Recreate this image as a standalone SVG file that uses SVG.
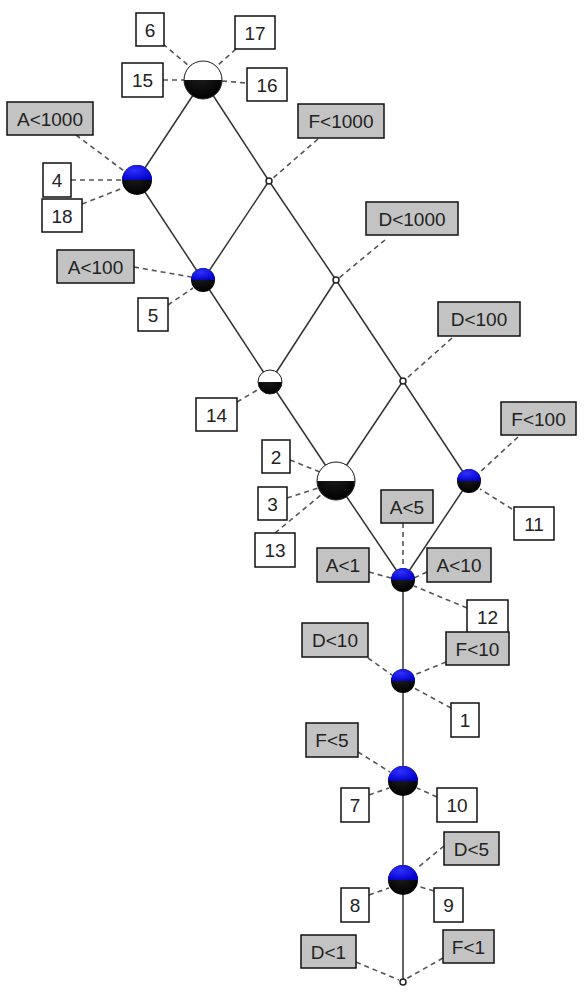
<svg xmlns="http://www.w3.org/2000/svg" width="585" height="1000" viewBox="0 0 585 1000">
<style>
.edge{stroke:#333;stroke-width:1.5;fill:none}
.dash{stroke:#555;stroke-width:1.6;stroke-dasharray:5 4;fill:none}
.obj{fill:#fff;stroke:#111;stroke-width:1.5}
.att{fill:#c3c3c3;stroke:#111;stroke-width:1.5}
.t{font-family:"Liberation Sans",Arial,sans-serif;font-size:19px;fill:#222;text-anchor:middle;dominant-baseline:central}
.bot{fill:url(#gBlack)}
.blue{fill:url(#gBlue)}
.white{fill:#fff}
.ring{fill:none;stroke:#222;stroke-width:1}
.small{fill:#fff;stroke:#222;stroke-width:1.5}
</style>
<defs>
<radialGradient id="gBlue" cx="0.4" cy="0.35" r="0.7">
<stop offset="0" stop-color="#3030ff"/>
<stop offset="1" stop-color="#0000c8"/>
</radialGradient>
<radialGradient id="gBlack" cx="0.45" cy="0.3" r="0.7">
<stop offset="0" stop-color="#222"/>
<stop offset="1" stop-color="#000"/>
</radialGradient>
</defs>
<g id="connectors">
<line class="edge" x1="203" y1="80" x2="137" y2="180"/>
<line class="edge" x1="203" y1="80" x2="269" y2="181"/>
<line class="edge" x1="137" y1="180" x2="203" y2="280"/>
<line class="edge" x1="269" y1="181" x2="203" y2="280"/>
<line class="edge" x1="269" y1="181" x2="336" y2="280"/>
<line class="edge" x1="203" y1="280" x2="270" y2="382"/>
<line class="edge" x1="336" y1="280" x2="270" y2="382"/>
<line class="edge" x1="336" y1="280" x2="403" y2="381"/>
<line class="edge" x1="270" y1="382" x2="336" y2="481"/>
<line class="edge" x1="403" y1="381" x2="336" y2="481"/>
<line class="edge" x1="403" y1="381" x2="469" y2="481"/>
<line class="edge" x1="336" y1="481" x2="403" y2="580"/>
<line class="edge" x1="469" y1="481" x2="403" y2="580"/>
<line class="edge" x1="403" y1="580" x2="403" y2="982"/>
<line class="dash" x1="163" y1="44" x2="189" y2="66"/>
<line class="dash" x1="236" y1="49" x2="218" y2="65"/>
<line class="dash" x1="163" y1="80" x2="184" y2="80"/>
<line class="dash" x1="222" y1="81" x2="247" y2="83"/>
<line class="dash" x1="76" y1="135" x2="124" y2="171"/>
<line class="dash" x1="71" y1="180" x2="122" y2="180"/>
<line class="dash" x1="82" y1="204" x2="123" y2="188"/>
<line class="dash" x1="318" y1="139" x2="272" y2="179"/>
<line class="dash" x1="134" y1="267" x2="191" y2="277"/>
<line class="dash" x1="168" y1="305" x2="193" y2="288"/>
<line class="dash" x1="385" y1="240" x2="339" y2="278"/>
<line class="dash" x1="452" y1="338" x2="406" y2="379"/>
<line class="dash" x1="237" y1="402" x2="259" y2="389"/>
<line class="dash" x1="518" y1="437" x2="479" y2="473"/>
<line class="dash" x1="512" y1="509" x2="480" y2="489"/>
<line class="dash" x1="290" y1="460" x2="320" y2="472"/>
<line class="dash" x1="287" y1="498" x2="318" y2="488"/>
<line class="dash" x1="275" y1="533" x2="322" y2="494"/>
<line class="dash" x1="403" y1="523" x2="403" y2="568"/>
<line class="dash" x1="369" y1="572" x2="391" y2="578"/>
<line class="dash" x1="427" y1="572" x2="414" y2="578"/>
<line class="dash" x1="467" y1="608" x2="414" y2="586"/>
<line class="dash" x1="368" y1="658" x2="392" y2="675"/>
<line class="dash" x1="446" y1="662" x2="414" y2="675"/>
<line class="dash" x1="451" y1="708" x2="414" y2="688"/>
<line class="dash" x1="358" y1="752" x2="390" y2="772"/>
<line class="dash" x1="369" y1="795" x2="389" y2="788"/>
<line class="dash" x1="437" y1="797" x2="417" y2="788"/>
<line class="dash" x1="444" y1="846" x2="416" y2="869"/>
<line class="dash" x1="369" y1="895" x2="389" y2="888"/>
<line class="dash" x1="434" y1="891" x2="417" y2="886"/>
<line class="dash" x1="356" y1="962" x2="399" y2="980"/>
<line class="dash" x1="443" y1="958" x2="406" y2="979"/>
</g>
<g id="n-top" transform="translate(203,80)">
<circle r="19" class="bot"/><path d="M-19,0 A19,19 0 0 1 19,0 Z" class="white"/><circle r="19" class="ring"/>
</g>
<g id="n-a1000" transform="translate(137,180)">
<circle r="15" class="bot"/><path d="M-15,0 A15,15 0 0 1 15,0 Z" class="blue"/>
</g>
<g id="n-f1000" transform="translate(269,181)"><circle r="3" class="small"/></g>
<g id="n-a100" transform="translate(203,280)">
<circle r="12" class="bot"/><path d="M-12,0 A12,12 0 0 1 12,0 Z" class="blue"/>
</g>
<g id="n-d1000" transform="translate(336,280)"><circle r="3" class="small"/></g>
<g id="n-14" transform="translate(270,382)">
<circle r="12" class="bot"/><path d="M-12,0 A12,12 0 0 1 12,0 Z" class="white"/><circle r="12" class="ring"/>
</g>
<g id="n-d100" transform="translate(403,381)"><circle r="3" class="small"/></g>
<g id="n-2" transform="translate(336,481)">
<circle r="19" class="bot"/><path d="M-19,0 A19,19 0 0 1 19,0 Z" class="white"/><circle r="19" class="ring"/>
</g>
<g id="n-f100" transform="translate(469,481)">
<circle r="12" class="bot"/><path d="M-12,0 A12,12 0 0 1 12,0 Z" class="blue"/>
</g>
<g id="n-a1" transform="translate(403,580)">
<circle r="12" class="bot"/><path d="M-12,0 A12,12 0 0 1 12,0 Z" class="blue"/>
</g>
<g id="n-d10" transform="translate(403,681)">
<circle r="12" class="bot"/><path d="M-12,0 A12,12 0 0 1 12,0 Z" class="blue"/>
</g>
<g id="n-f5" transform="translate(403,781)">
<circle r="15" class="bot"/><path d="M-15,0 A15,15 0 0 1 15,0 Z" class="blue"/>
</g>
<g id="n-d5" transform="translate(403,880)">
<circle r="15" class="bot"/><path d="M-15,0 A15,15 0 0 1 15,0 Z" class="blue"/>
</g>
<g id="n-bottom" transform="translate(403,982)"><circle r="3" class="small"/></g>
<g id="labels">
<g id="l-6"><rect class="obj" x="136" y="13" width="28" height="33"/><text class="t" x="150" y="30">6</text></g>
<g id="l-17"><rect class="obj" x="235" y="16" width="40" height="33"/><text class="t" x="255" y="33">17</text></g>
<g id="l-15"><rect class="obj" x="122" y="63" width="41" height="34"/><text class="t" x="142.5" y="80">15</text></g>
<g id="l-16"><rect class="obj" x="247" y="68" width="40" height="33"/><text class="t" x="267" y="85">16</text></g>
<g id="l-a1000"><rect class="att" x="7" y="102" width="86" height="33"/><text class="t" x="50" y="119">A&lt;1000</text></g>
<g id="l-4"><rect class="obj" x="43" y="163" width="28" height="34"/><text class="t" x="57" y="180">4</text></g>
<g id="l-18"><rect class="obj" x="42" y="199" width="40" height="33"/><text class="t" x="62" y="216">18</text></g>
<g id="l-f1000"><rect class="att" x="298" y="104" width="86" height="34"/><text class="t" x="341" y="121">F&lt;1000</text></g>
<g id="l-a100"><rect class="att" x="57" y="250" width="77" height="33"/><text class="t" x="95.5" y="267">A&lt;100</text></g>
<g id="l-5"><rect class="obj" x="138" y="298" width="30" height="33"/><text class="t" x="153" y="315">5</text></g>
<g id="l-d1000"><rect class="att" x="366" y="202" width="92" height="33"/><text class="t" x="412" y="219">D&lt;1000</text></g>
<g id="l-d100"><rect class="att" x="438" y="302" width="82" height="34"/><text class="t" x="479" y="319">D&lt;100</text></g>
<g id="l-14"><rect class="obj" x="196" y="398" width="41" height="33"/><text class="t" x="216.5" y="415">14</text></g>
<g id="l-f100"><rect class="att" x="501" y="402" width="75" height="33"/><text class="t" x="538.5" y="419">F&lt;100</text></g>
<g id="l-2"><rect class="obj" x="262" y="440" width="28" height="33"/><text class="t" x="276" y="457">2</text></g>
<g id="l-3"><rect class="obj" x="258" y="487" width="29" height="33"/><text class="t" x="272.5" y="504">3</text></g>
<g id="l-13"><rect class="obj" x="255" y="533" width="40" height="34"/><text class="t" x="275" y="550">13</text></g>
<g id="l-11"><rect class="obj" x="514" y="507" width="40" height="33"/><text class="t" x="534" y="524">11</text></g>
<g id="l-a5"><rect class="att" x="381" y="490" width="52" height="33"/><text class="t" x="407" y="507">A&lt;5</text></g>
<g id="l-a1"><rect class="att" x="317" y="548" width="52" height="34"/><text class="t" x="343" y="565">A&lt;1</text></g>
<g id="l-a10"><rect class="att" x="427" y="548" width="64" height="34"/><text class="t" x="459" y="565">A&lt;10</text></g>
<g id="l-12"><rect class="obj" x="467" y="600" width="41" height="33"/><text class="t" x="487.5" y="617">12</text></g>
<g id="l-d10"><rect class="att" x="302" y="623" width="66" height="34"/><text class="t" x="335" y="640">D&lt;10</text></g>
<g id="l-f10"><rect class="att" x="446" y="632" width="63" height="33"/><text class="t" x="477.5" y="649">F&lt;10</text></g>
<g id="l-1"><rect class="obj" x="451" y="703" width="28" height="34"/><text class="t" x="465" y="720">1</text></g>
<g id="l-f5"><rect class="att" x="306" y="723" width="52" height="34"/><text class="t" x="332" y="740">F&lt;5</text></g>
<g id="l-7"><rect class="obj" x="341" y="788" width="28" height="34"/><text class="t" x="355" y="805">7</text></g>
<g id="l-10"><rect class="obj" x="437" y="788" width="40" height="34"/><text class="t" x="457" y="805">10</text></g>
<g id="l-d5"><rect class="att" x="444" y="832" width="55" height="33"/><text class="t" x="471.5" y="849">D&lt;5</text></g>
<g id="l-8"><rect class="obj" x="341" y="888" width="28" height="34"/><text class="t" x="355" y="905">8</text></g>
<g id="l-9"><rect class="obj" x="434" y="888" width="29" height="34"/><text class="t" x="448.5" y="905">9</text></g>
<g id="l-d1"><rect class="att" x="301" y="935" width="55" height="33"/><text class="t" x="328.5" y="952">D&lt;1</text></g>
<g id="l-f1"><rect class="att" x="443" y="930" width="51" height="33"/><text class="t" x="468.5" y="947">F&lt;1</text></g>
</g>
</svg>
